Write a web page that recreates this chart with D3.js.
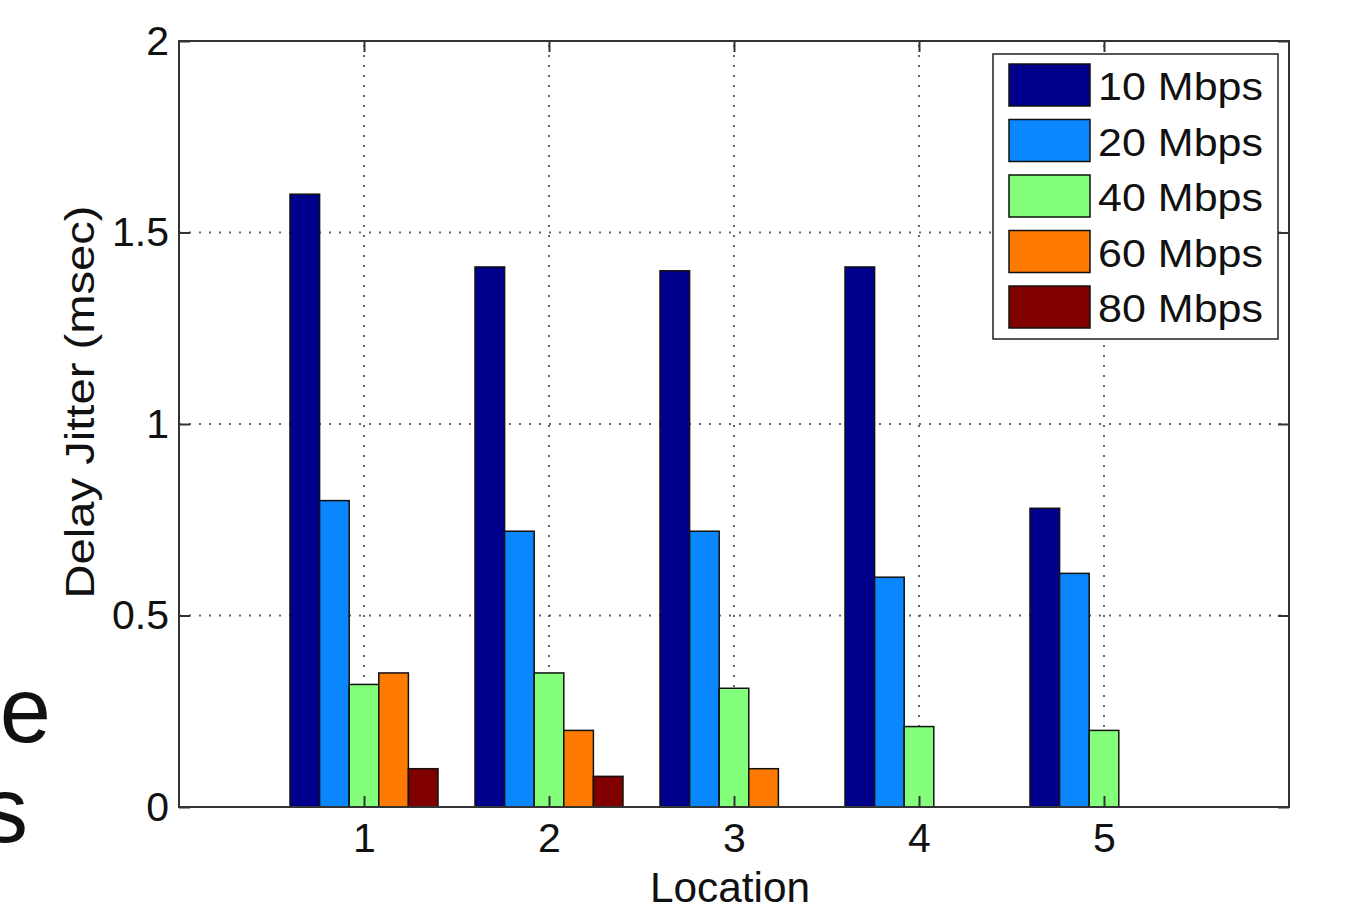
<!DOCTYPE html>
<html>
<head>
<meta charset="utf-8">
<script src="https://cdn.jsdelivr.net/npm/d3@7/dist/d3.min.js"></script>
<style>
  html, body { margin: 0; padding: 0; background: #ffffff; }
  svg { display: block; }
  text { font-family: "Liberation Sans", Arial, Helvetica, sans-serif; fill: #111; }
</style>
</head>
<body>
<svg id="chart" width="1360" height="910"></svg>
<script>
// ---- data ----
const locations = [1, 2, 3, 4, 5];
const seriesNames = ["10 Mbps", "20 Mbps", "40 Mbps", "60 Mbps", "80 Mbps"];
const seriesColors = ["#00008c", "#0a86ff", "#84ff7c", "#ff7a00", "#800000"];
const jitter10 = [1.60, 1.41, 1.40, 1.41, 0.78];
const jitter20 = [0.80, 0.72, 0.72, 0.60, 0.61];
const jitter40 = [0.32, 0.35, 0.31, 0.21, 0.20];
const jitter60 = [0.35, 0.20, 0.10, 0, 0];
const jitter80 = [0.10, 0.08, 0, 0, 0];
const yTicks = [0, 0.5, 1, 1.5, 2];
const yTickLabels = ["0", "0.5", "1", "1.5", "2"];
const xTicks = [1, 2, 3, 4, 5];
const xLabel = "Location";
const yLabel = "Delay Jitter (msec)";
const sideText = ["e", "s"];

const seriesValues = [jitter10, jitter20, jitter40, jitter60, jitter80];

// ---- layout ----
const svg = d3.select("#chart");
const L = 179, R = 1289, T = 41, B = 807;
const x = d3.scaleLinear().domain([0, 6]).range([L, R]);
const y = d3.scaleLinear().domain([0, 2]).range([B, T]);

// left slide text fragments (cropped slide text in the original)
svg.append("text").attr("x", 51).attr("y", 742).attr("text-anchor", "end")
  .attr("font-size", 92).text(sideText[0]);
svg.append("text").attr("x", 28).attr("y", 842).attr("text-anchor", "end")
  .attr("font-size", 92).text(sideText[1]);

// plot background
svg.append("rect").attr("x", L).attr("y", T).attr("width", R - L).attr("height", B - T)
  .attr("fill", "#fff");

// grid
const grid = svg.append("g").attr("stroke", "#666").attr("stroke-width", 2)
  .attr("stroke-dasharray", "2 8");
grid.selectAll("line.gx").data(xTicks).join("line")
  .attr("x1", d => x(d)).attr("x2", d => x(d)).attr("y1", B).attr("y2", T);
grid.selectAll("line.gy").data(yTicks.filter(d => d > 0 && d < 2)).join("line")
  .attr("y1", d => y(d)).attr("y2", d => y(d)).attr("x1", L).attr("x2", R);

// bars
const groupW = x(0.8) - x(0);
const barW = groupW / seriesNames.length;
const barData = [];
seriesValues.forEach((vals, j) => {
  vals.forEach((v, i) => {
    if (v > 0) barData.push({ loc: locations[i], j, v });
  });
});
svg.append("g").selectAll("rect").data(barData).join("rect")
  .attr("x", d => x(d.loc) - groupW / 2 + d.j * barW)
  .attr("y", d => y(d.v))
  .attr("width", barW)
  .attr("height", d => y(0) - y(d.v))
  .attr("fill", d => seriesColors[d.j])
  .attr("stroke", "#111")
  .attr("stroke-width", 1.5);

// axes (MATLAB-style inward ticks, boxed)
const tickLen = 11;
const axisG = svg.append("g");
const xAxisB = d3.axisBottom(x).tickValues(xTicks).tickSize(-tickLen).tickPadding(16)
  .tickFormat(d3.format("d"));
const xAxisT = d3.axisTop(x).tickValues(xTicks).tickSize(-tickLen).tickFormat("");
const yAxisL = d3.axisLeft(y).tickValues(yTicks).tickSize(-tickLen).tickPadding(10)
  .tickFormat((d, i) => yTickLabels[i]);
const yAxisR = d3.axisRight(y).tickValues(yTicks).tickSize(-tickLen).tickFormat("");

function style(g) {
  g.select(".domain").remove();
  g.selectAll(".tick line").attr("stroke", "#333").attr("stroke-width", 2);
  g.selectAll(".tick text").attr("font-size", 41).attr("fill", "#111")
    .attr("font-family", "Liberation Sans, Arial, sans-serif");
}
axisG.append("g").attr("transform", `translate(0,${B})`).call(xAxisB).call(style);
axisG.append("g").attr("transform", `translate(0,${T})`).call(xAxisT).call(style);
axisG.append("g").attr("transform", `translate(${L},0)`).call(yAxisL).call(style);
axisG.append("g").attr("transform", `translate(${R},0)`).call(yAxisR).call(style);

// frame
svg.append("rect").attr("x", L).attr("y", T).attr("width", R - L).attr("height", B - T)
  .attr("fill", "none").attr("stroke", "#333").attr("stroke-width", 2);

// axis labels
svg.append("text").attr("x", (x(0) + x(6)) / 2 - 4).attr("y", 902)
  .attr("text-anchor", "middle").attr("font-size", 42)
  .attr("textLength", 160).attr("lengthAdjust", "spacingAndGlyphs").text(xLabel);
svg.append("text")
  .attr("transform", `translate(94,402) rotate(-90)`)
  .attr("text-anchor", "middle").attr("font-size", 40)
  .attr("textLength", 393).attr("lengthAdjust", "spacingAndGlyphs").text(yLabel);

// legend
const lg = svg.append("g");
lg.append("rect").attr("x", 993).attr("y", 54).attr("width", 285).attr("height", 285)
  .attr("fill", "#fff").attr("stroke", "#222").attr("stroke-width", 1.5);
const rowH = 55.5;
const items = lg.selectAll("g.item").data(seriesNames).join("g")
  .attr("transform", (d, k) => `translate(0,${64 + k * rowH})`);
items.append("rect").attr("x", 1009).attr("y", 0).attr("width", 81).attr("height", 42)
  .attr("fill", (d, k) => seriesColors[k]).attr("stroke", "#111").attr("stroke-width", 1.5);
items.append("text").attr("x", 1098).attr("y", 36).attr("font-size", 39)
  .attr("textLength", 165).attr("lengthAdjust", "spacingAndGlyphs").text(d => d);
</script>
</body>
</html>
